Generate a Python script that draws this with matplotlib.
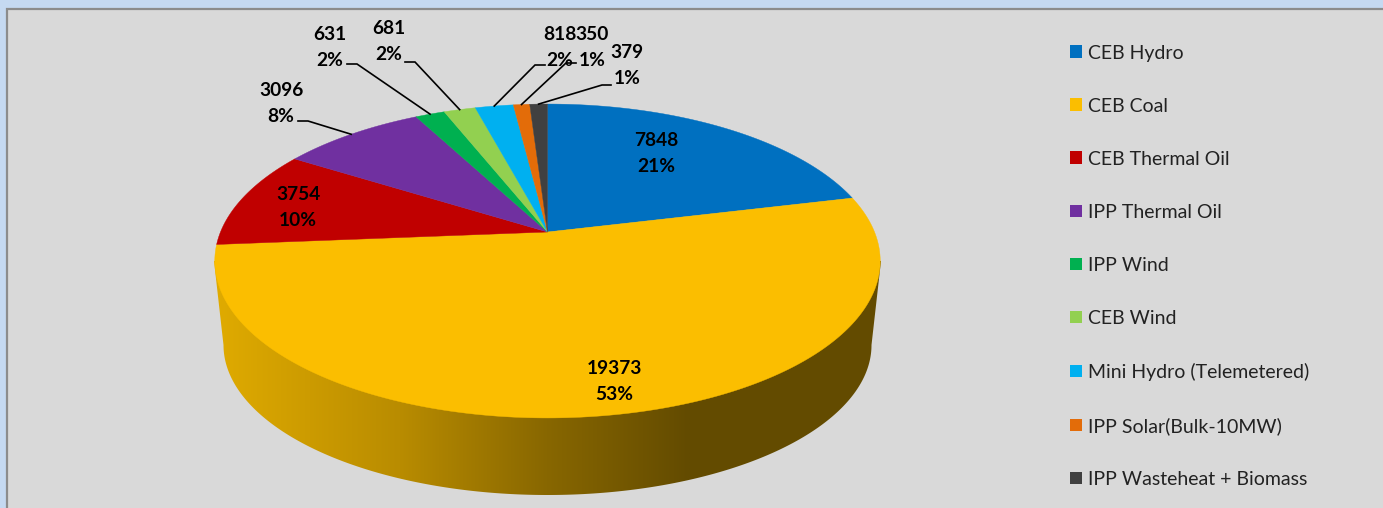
import numpy as np
import matplotlib
matplotlib.use('Agg')
import matplotlib.pyplot as plt
from matplotlib.patches import Patch, Polygon, Rectangle
from matplotlib.colors import LinearSegmentedColormap

categories = ['CEB Hydro', 'CEB Coal', 'CEB Thermal Oil', 'IPP Thermal Oil', 'IPP Wind',
              'CEB Wind', 'Mini Hydro (Telemetered)', 'IPP Solar(Bulk-10MW)', 'IPP Wasteheat + Biomass']
values = [7848, 19373, 3754, 3096, 631, 681, 818, 350, 379]
percents = [21, 53, 10, 8, 2, 2, 2, 1, 1]
colors = ['#0070C0', '#FBBE00', '#C00000', '#7030A0', '#00B050',
          '#92D050', '#00B0F0', '#E36C09', '#404040']

plt.rcParams['font.family'] = ['Lato', 'DejaVu Sans']

# the axes are simply the picture in pixels, y going down
fig = plt.figure(figsize=(13.83, 5.08), dpi=100, facecolor='#C5D9F1')
ax = fig.add_axes([0, 0, 1, 1])
ax.set_xlim(0, 1383)
ax.set_ylim(508, 0)
ax.axis('off')

ax.add_patch(Rectangle((7, 9), 1385, 510, facecolor='#D9D9D9', edgecolor='#8C8C8C', lw=1.6, zorder=0))


# perspective view of the pie disc, angle clockwise from 12 o'clock
def rim(angle, cx=547.5, cy=232.0, a=327.0, b=151.6, k=0.1847):
    u = np.sin(angle)
    v = np.cos(angle)
    d = 1 + k * v
    return cx + a * u / d, cy - b * v / d


# side wall of the disc, only the front of it can be seen
t = np.linspace(np.pi / 2, 3 * np.pi / 2, 300)
wall = np.column_stack([547.5 + 324 * np.sin(t), 345 - 150 * np.cos(t)])
wall = np.vstack([[[881, 261]], wall, [[214, 261]], [[547, 232]]])
wall_patch = Polygon(wall, closed=True, facecolor='none', edgecolor='none')
ax.add_patch(wall_patch)
wall_cmap = LinearSegmentedColormap.from_list('wall', [(0.0, '#E0AB00'), (0.39, '#B98C00'),
                                                       (0.70, '#886700'), (1.0, '#634B00')])
grad = ax.imshow(np.linspace(0, 1, 256)[None, :], extent=(214, 690, 508, 200), cmap=wall_cmap,
                 aspect='auto', zorder=1)
ax.add_patch(Rectangle((690, 200), 200, 308, facecolor='#634B00', edgecolor='none', zorder=1,
                       clip_path=wall_patch))
grad.set_clip_path(wall_patch)
ax.set_xlim(0, 1383)
ax.set_ylim(508, 0)

# slices on the top of the disc
edges = np.cumsum([0] + values) / sum(values) * 2 * np.pi
for i in range(len(values)):
    ang = np.linspace(edges[i], edges[i + 1], 200)
    x, y = rim(ang)
    pts = np.column_stack([np.append(x, rim(0.0)[0]), np.append(y, 232.0)])
    ax.add_patch(Polygon(pts, closed=True, facecolor=colors[i], edgecolor=colors[i], lw=0.3, zorder=2))

# labels, the small slices have a leader line
label_pos = [(656, 140), (614, 368), (298, 195), (281, 91), (330, 34),
             (389, 29), (560, 34), (592, 34), (627, 53)]
leaders = {3: [(298, 121), (308, 121)], 4: [(347, 64), (357, 64)], 5: [(405, 62), (415, 62)],
           6: [(545, 65), (535, 65)], 7: [(576, 63), (566, 63)], 8: [(611, 85), (602, 85)]}
for i, (px, py) in enumerate(label_pos):
    ax.text(px, py, str(values[i]), ha='center', va='center', fontsize=13.8, fontweight='bold',
            color='black', zorder=4)
    ax.text(px, py + 26, '%d%%' % percents[i], ha='center', va='center', fontsize=13.8,
            fontweight='bold', color='black', zorder=4)
    if i in leaders:
        end = rim((edges[i] + edges[i + 1]) / 2)
        xs = [p[0] for p in leaders[i]] + [end[0]]
        ys = [p[1] for p in leaders[i]] + [end[1]]
        ax.plot(xs, ys, color='black', lw=1.2, zorder=3, solid_joinstyle='miter')

handles = [Patch(facecolor=c, edgecolor='none', label=n) for c, n in zip(colors, categories)]
leg = ax.legend(handles=handles, loc='upper left', bbox_to_anchor=(1070 / 1383, 1 - 44.5 / 508),
                frameon=False, fontsize=14, handlelength=0.62, handleheight=0.62,
                handletextpad=0.3, labelspacing=1.855, borderpad=0, borderaxespad=0)
for txt in leg.get_texts():
    txt.set_color('#222222')

fig.savefig('out.png', dpi=100, facecolor=fig.get_facecolor())
